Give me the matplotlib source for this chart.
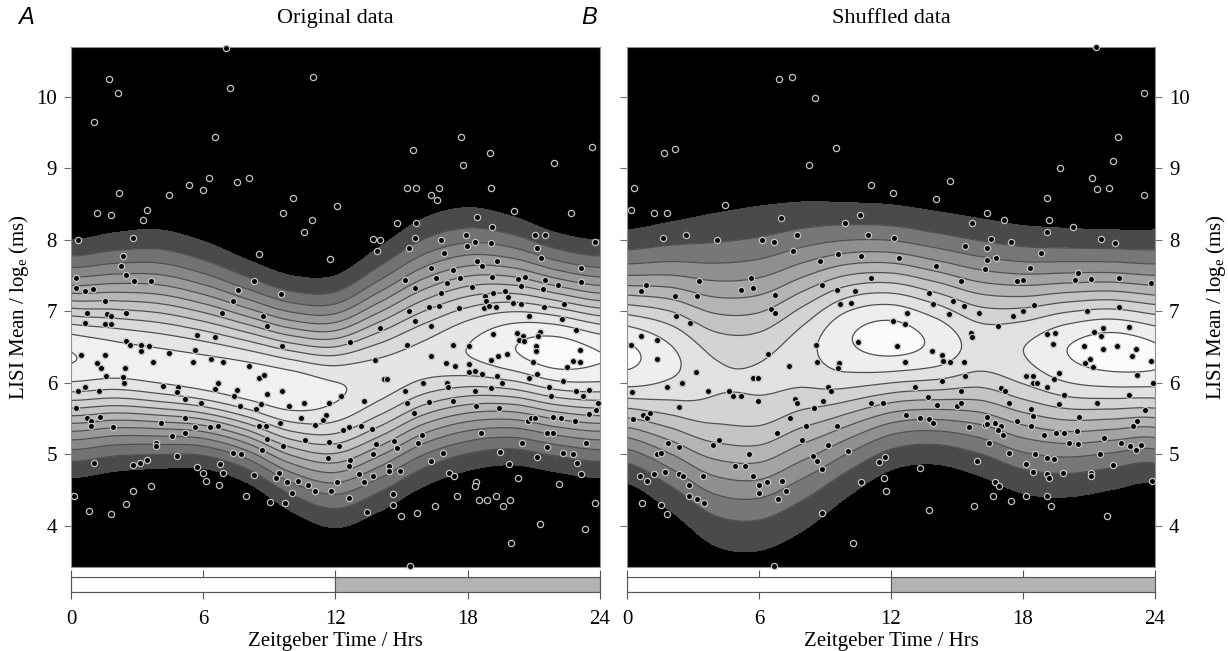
"""LISI mean vs Zeitgeber time: density contours of original and shuffled data."""

import matplotlib

matplotlib.use("Agg")
import matplotlib.pyplot as plt
import numpy as np

plt.rcParams["font.family"] = ["Liberation Serif", "DejaVu Serif"]
plt.rcParams["mathtext.fontset"] = "custom"
plt.rcParams["mathtext.rm"] = "Liberation Serif"

# --- density ridge, one node every 2 h (periodic in ZT) ---
node_hour = np.arange(0, 24, 2)
# panel A (original data)
a_mu = [6.35, 6.3, 6.2, 6.1, 6.0, 5.9, 5.88, 6.05, 6.3, 6.45, 6.48, 6.42]
a_top = [8.0, 8.1, 8.14, 7.98, 7.72, 7.5, 7.5, 7.9, 8.3, 8.45, 8.33, 8.1]
a_bottom = [4.67, 4.76, 4.8, 4.8, 4.6, 4.2, 3.97, 4.2, 4.55, 4.77, 4.85, 4.75]
a_peak = [0.955, 0.92, 0.915, 0.92, 0.93, 0.93, 0.885, 0.84, 0.83, 0.875, 0.945, 0.99]
# panel B (shuffled data)
b_mu = [6.37, 6.3, 6.08, 6.05, 6.4, 6.6, 6.62, 6.55, 6.5, 6.45, 6.45, 6.45]
b_top = [8.14, 8.25, 8.37, 8.47, 8.53, 8.52, 8.49, 8.4, 8.3, 8.2, 8.16, 8.14]
b_bottom = [4.59, 4.2, 3.72, 3.65, 3.93, 4.4, 4.78, 4.86, 4.7, 4.45, 4.4, 4.5]
b_peak = [0.975, 0.88, 0.78, 0.775, 0.82, 0.94, 0.99, 0.93, 0.82, 0.855, 0.95, 1.0]

# --- individual recordings (ZT hour, LISI mean) ---
a_hour = [7.03, 1.04, 1.72, 2.13, 7.2, 10.98, 6.53, 15.5, 17.7, 19.0, 21.9, 23.64, 17.8,
          6.25, 5.34, 6.0, 4.43, 2.19, 1.19, 1.8, 3.46, 3.25, 0.32, 2.83, 2.37, 2.25, 2.5,
          0.23, 2.86, 3.62, 0.23, 0.62, 0.98, 1.53, 0.71, 1.62, 1.8, 2.5, 6.85, 0.62, 1.56,
          1.8, 5.73, 6.52, 2.5, 2.68, 3.19, 3.55, 3.19, 5.64, 4.46, 0.44, 1.53, 6.37, 6.91,
          3.71, 5.52, 1.19, 1.38, 2.46, 1.59, 2.37, 2.4, 0.62, 0.32, 1.28, 4.16, 4.86, 4.82,
          6.67, 6.52, 5.16, 5.91, 0.23, 0.71, 0.89, 1.32, 0.89, 1.92, 4.1, 5.16, 5.61, 6.31,
          6.67, 4.58, 5.16, 3.86, 3.86, 4.8, 1.04, 2.8, 3.13, 3.46, 5.73, 5.98, 6.76, 6.91,
          6.13, 6.7, 0.14, 2.8, 3.64, 2.5, 0.8, 1.83,
          7.52, 8.09, 10.09, 12.08, 9.63, 10.93, 10.57, 13.69, 14.02, 13.87, 8.52, 11.75,
          8.3, 9.51, 7.58, 7.36, 8.7, 8.88, 14.02, 12.66, 9.57, 13.81, 8.09, 8.54, 8.76,
          14.2, 7.55, 7.4, 8.88, 9.57, 10.57, 11.72, 13.29, 9.88, 12.26, 7.67, 8.39, 8.61,
          10.45, 11.57, 11.45, 9.48, 8.54, 8.85, 11.08, 12.33, 12.63, 13.14, 13.66, 8.88,
          10.6, 11.72, 12.15, 13.84, 8.67, 9.63, 7.36, 7.73, 11.66, 12.66, 13.72, 12.6,
          9.45, 9.81, 10.3, 10.75, 11.08, 11.81, 12.08, 13.08, 13.29, 13.69, 9.3, 8.3,
          7.94, 9.03, 9.72, 10.03, 12.63, 13.42,
          15.26, 15.65, 16.35, 16.59, 16.71, 19.07, 20.1, 22.7, 14.8, 15.65, 18.41, 19.1,
          15.59, 15.32, 16.77, 17.92, 17.95, 18.32, 19.04, 21.04, 21.52, 21.16, 21.34,
          23.76, 16.92, 23.15, 22.1, 23.13, 15.14, 16.32, 17.35, 18.44, 18.65, 19.32,
          16.56, 17.07, 17.65, 19.1, 20.28, 20.61, 21.49, 15.62, 18.19, 20.4, 21.4, 16.8,
          18.8, 19.16, 19.7, 19.83, 18.83, 20.04, 20.4, 22.37, 16.26, 16.68, 17.59, 18.74,
          18.98, 19.28, 21.46, 15.35, 15.59, 20.8, 22.28, 16.35, 22.91, 19.16, 20.22,
          20.52, 21.28, 21.19, 20.34, 20.55, 17.35, 15.26, 18.07, 21.1, 21.1, 23.09, 16.32,
          19.37, 19.77, 22.76, 23.09, 19.04, 17.01, 17.41, 18.07, 20.95, 22.49, 18.07,
          18.32, 18.65, 21.16, 14.32, 19.34, 20.77, 22.31, 15.96, 17.05, 17.1, 19.56,
          18.32, 19.04, 21.7, 15.14, 22.91, 23.49, 21.79, 23.24, 15.26, 16.23, 17.32,
          18.38, 19.41, 23.91, 23.82, 15.56, 20.74, 20.89, 21.07, 21.86, 22.22, 22.85,
          23.52, 15.93, 21.58, 21.86, 14.66, 14.8, 15.74, 23.37, 18.59, 20.46, 21.58,
          22.31, 22.76, 19.46, 16.89, 16.32, 19.89, 21.13, 22.94, 23.13, 14.41, 14.41,
          14.93, 17.14, 17.38, 20.28, 18.38, 18.32, 22.16, 14.6, 17.5, 18.53, 18.89, 19.28,
          19.92, 19.61, 23.79, 16.53, 14.62, 15.68, 14.96, 19.95, 15.38, 21.3, 23.3]
a_lisi = [10.69, 9.65, 10.25, 10.06, 10.13, 10.28, 9.44, 9.26, 9.44, 9.22, 9.07, 9.3, 9.05,
          8.87, 8.77, 8.7, 8.62, 8.65, 8.38, 8.35, 8.41, 8.28, 8.0, 8.03, 7.78, 7.64, 7.51,
          7.47, 7.42, 7.43, 7.32, 7.28, 7.31, 7.14, 6.98, 6.96, 6.94, 6.98, 6.98, 6.83, 6.82,
          6.82, 6.67, 6.64, 6.58, 6.53, 6.53, 6.52, 6.45, 6.46, 6.42, 6.39, 6.39, 6.33, 6.29,
          6.29, 6.29, 6.27, 6.2, 6.21, 6.1, 6.08, 6.0, 5.94, 5.89, 5.88, 5.95, 5.94, 5.87,
          5.99, 5.91, 5.77, 5.71, 5.65, 5.51, 5.47, 5.52, 5.4, 5.38, 5.43, 5.5, 5.38, 5.38,
          5.4, 5.26, 5.29, 5.16, 5.12, 4.97, 4.87, 4.85, 4.88, 4.92, 4.82, 4.74, 4.86, 4.73,
          4.63, 4.57, 4.42, 4.49, 4.55, 4.3, 4.21, 4.16,
          8.81, 8.86, 8.58, 8.47, 8.38, 8.28, 8.11, 8.01, 7.99, 7.85, 7.8, 7.73,
          7.42, 7.24, 7.3, 7.14, 6.93, 6.8, 6.77, 6.57, 6.52, 6.32, 6.24, 6.07, 6.11,
          6.05, 5.9, 5.81, 5.84, 5.89, 5.71, 5.71, 5.74, 5.67, 5.82, 5.68, 5.63, 5.7,
          5.51, 5.55, 5.48, 5.44, 5.39, 5.4, 5.41, 5.34, 5.38, 5.39, 5.35, 5.21,
          5.2, 5.17, 5.12, 5.14, 5.06, 5.12, 5.01, 5.0, 4.95, 4.92, 5.0, 4.83,
          4.74, 4.61, 4.63, 4.57, 4.48, 4.49, 4.61, 4.72, 4.61, 4.7, 4.66, 4.71,
          4.41, 4.33, 4.32, 4.45, 4.38, 4.19,
          8.72, 8.73, 8.63, 8.56, 8.72, 8.72, 8.4, 8.37, 8.24, 8.23, 8.32, 8.18,
          8.02, 7.88, 8.0, 8.06, 7.91, 7.97, 7.96, 8.07, 8.07, 7.89, 7.74,
          7.97, 7.82, 7.61, 7.37, 7.41, 7.44, 7.61, 7.58, 7.7, 7.64, 7.7,
          7.46, 7.4, 7.46, 7.48, 7.45, 7.48, 7.44, 7.32, 7.34, 7.35, 7.31, 7.26,
          7.22, 7.25, 7.28, 7.2, 7.15, 7.11, 7.1, 7.1, 7.06, 7.07, 7.04, 7.04,
          7.08, 7.06, 7.06, 7.01, 6.86, 6.93, 6.89, 6.8, 6.74, 6.68, 6.69,
          6.66, 6.71, 6.65, 6.6, 6.58, 6.53, 6.53, 6.51, 6.51, 6.45, 6.46, 6.38,
          6.38, 6.4, 6.3, 6.29, 6.32, 6.27, 6.24, 6.26, 6.29, 6.22, 6.15,
          6.16, 6.12, 6.12, 6.05, 6.09, 6.06, 6.02, 6.0, 6.0, 5.94, 5.99,
          5.88, 5.92, 5.94, 5.89, 5.89, 5.9, 5.81, 5.81, 5.72, 5.73, 5.75,
          5.67, 5.65, 5.71, 5.62, 5.57, 5.47, 5.5, 5.51, 5.52, 5.51, 5.47,
          5.56, 5.27, 5.3, 5.3, 5.19, 5.08, 5.15, 5.15, 5.29, 5.15, 5.1,
          5.01, 5.0, 5.03, 5.01, 4.9, 4.86, 4.96, 4.87, 4.72, 4.83, 4.76,
          4.76, 4.73, 4.69, 4.67, 4.61, 4.56, 4.58, 4.44, 4.42, 4.36, 4.36, 4.42,
          4.36, 4.28, 4.32, 4.28, 4.29, 4.18, 4.13, 3.75, 3.44, 4.02, 3.95]

b_hour = [6.9, 7.5, 8.55, 9.5, 8.27, 1.7, 2.2, 22.1, 22.3, 23.5, 21.3, 19.7,
          0.32, 0.17, 1.23, 1.83, 4.47, 6.99, 1.62, 2.68, 4.1, 6.14, 6.68, 7.71, 7.53,
          3.26, 5.62, 0.86, 0.62, 2.17, 3.17, 5.2, 5.74, 6.74, 6.56, 6.71, 2.23, 2.86,
          0.62, 1.38, 0.2, 1.35, 6.41, 7.38, 3.14, 5.74, 5.95, 1.8, 2.5, 0.23, 3.68,
          4.62, 4.8, 5.17, 5.95, 7.62, 7.74, 2.38, 0.26, 0.74, 0.9, 1.05, 7.41, 6.83,
          1.86, 2.38, 3.92, 4.2, 1.35, 1.53, 5.56, 7.95, 4.9, 5.35, 1.23, 1.74, 2.38,
          2.56, 3.47, 0.59, 0.9, 2.83, 5.71, 6.01, 6.35, 7.05, 6.01, 7.23, 6.86, 2.83,
          3.2, 3.5, 0.68, 1.56, 1.8, 10.29, 6.68,
          11.08, 12.1, 14.68, 14.05, 10.59, 9.9, 15.68, 10.95, 12.14, 15.38, 16.26,
          9.59, 10.62, 8.77, 12.38, 14.05, 11.1, 15.2, 8.86, 9.53, 10.38, 13.74, 9.68,
          10.17, 13.9, 14.8, 15.32, 16.01, 14.62, 12.71, 12.1, 12.62, 15.62, 15.68,
          10.5, 8.59, 12.26, 13.86, 14.32, 14.38, 14.68, 15.32, 8.65, 9.62, 9.59,
          12.65, 15.38, 14.32, 13.1, 9.14, 9.29, 15.17, 13.68, 8.92, 11.1, 11.65,
          14.1, 15.01, 15.2, 8.5, 12.68, 13.32, 13.74, 13.9, 8.14, 9.53, 16.26, 9.14,
          15.9, 15.56, 10.05, 8.44, 8.65, 11.74, 11.47, 8.86, 13.32, 10.65, 11.68,
          11.77, 8.86, 13.74, 15.77,
          21.14, 21.38, 21.92, 23.5, 19.08, 16.38, 17.14, 19.2, 20.29, 19.07, 16.56,
          17.44, 21.56, 22.2, 18.83, 16.38, 18.32, 20.5, 16.38, 16.77, 17.74, 18.01,
          20.35, 21.08, 22.38, 23.83, 18.5, 18.01, 17.53, 20.92, 22.38, 16.86, 19.08,
          19.47, 21.23, 21.65, 21.53, 22.83, 19.35, 20.77, 21.62, 22.26, 23.14, 22.95,
          23.8, 21.05, 20.83, 21.17, 19.65, 19.41, 18.14, 18.44, 18.47, 18.65, 19.08,
          23.2, 23.9, 17.01, 17.2, 19.86, 22.8, 17.38, 19.62, 21.35, 18.35, 23.53,
          18.44, 20.56, 16.38, 17.74, 23.17, 16.38, 16.71, 16.99, 16.86, 17.1, 18.35,
          22.99, 18.95, 19.5, 19.86, 20.44, 20.08, 21.68, 22.47, 22.86, 23.38, 16.44,
          17.35, 18.56, 19.1, 19.41, 20.5, 21.5, 23.14, 18.14, 22.1, 18.44, 19.1,
          19.83, 21.1, 19.2, 21.08, 16.71, 16.92, 23.86, 16.62, 17.44, 18.14, 19.1,
          19.29, 21.8]
b_lisi = [10.25, 10.28, 9.99, 9.29, 9.05, 9.22, 9.27, 9.1, 9.44, 10.06, 10.7, 9.0,
          8.72, 8.41, 8.38, 8.38, 8.48, 8.31, 8.03, 8.07, 8.0, 7.99, 7.97, 8.07, 7.85,
          7.42, 7.46, 7.37, 7.28, 7.21, 7.22, 7.3, 7.32, 7.23, 7.03, 6.98, 6.93, 6.83,
          6.65, 6.6, 6.53, 6.33, 6.4, 6.23, 6.15, 6.06, 6.06, 5.94, 6.0, 5.87, 5.89,
          5.89, 5.81, 5.82, 5.74, 5.77, 5.71, 5.66, 5.49, 5.55, 5.5, 5.57, 5.5, 5.29,
          5.15, 5.1, 5.13, 5.2, 5.0, 5.02, 5.0, 5.2, 4.83, 4.83, 4.72, 4.75, 4.72,
          4.69, 4.7, 4.69, 4.62, 4.57, 4.69, 4.57, 4.61, 4.63, 4.45, 4.48, 4.37, 4.42,
          4.37, 4.32, 4.32, 4.29, 4.16, 3.75, 3.44,
          8.77, 8.65, 8.82, 8.57, 8.35, 8.23, 8.24, 8.06, 8.02, 7.91, 7.59,
          7.8, 7.78, 7.7, 7.75, 7.64, 7.47, 7.42, 7.37, 7.3, 7.28, 7.26, 7.1,
          7.11, 7.1, 7.15, 7.07, 6.98, 6.96, 6.98, 6.87, 6.82, 6.7, 6.64,
          6.57, 6.53, 6.52, 6.45, 6.39, 6.31, 6.29, 6.29, 6.29, 6.27, 6.2,
          6.29, 6.09, 6.02, 5.94, 5.94, 5.89, 5.88, 5.8, 5.75, 5.72, 5.72,
          5.69, 5.67, 5.72, 5.64, 5.55, 5.51, 5.49, 5.43, 5.4, 5.39, 5.41, 5.13,
          4.9, 5.38, 5.04, 4.97, 4.91, 4.96, 4.89, 4.79, 4.81, 4.61, 4.67,
          4.49, 4.17, 4.22, 4.28,
          8.86, 8.71, 8.72, 8.63, 8.58, 8.37, 8.28, 8.28, 8.18, 8.11, 8.01,
          7.97, 8.01, 7.96, 7.81, 7.89, 7.61, 7.53, 7.72, 7.74, 7.43, 7.44,
          7.44, 7.45, 7.47, 7.4, 7.09, 7.0, 6.94, 7.01, 7.06, 6.8, 6.68,
          6.69, 6.71, 6.76, 6.66, 6.78, 6.54, 6.52, 6.47, 6.52, 6.47, 6.38,
          6.31, 6.33, 6.27, 6.22, 6.14, 6.05, 6.09, 6.09, 5.99, 6.0, 5.94,
          6.11, 5.99, 5.93, 5.88, 5.83, 5.83, 5.71, 5.7, 5.71, 5.63, 5.62,
          5.53, 5.52, 5.52, 5.47, 5.46, 5.42, 5.44, 5.39, 5.34, 5.27, 5.4,
          5.4, 5.27, 5.29, 5.3, 5.33, 5.15, 5.22, 5.16, 5.12, 5.13, 5.15,
          5.02, 5.0, 4.95, 4.93, 5.14, 5.0, 5.06, 4.86, 4.85, 4.75, 4.72,
          4.73, 4.74, 4.67, 4.69, 4.61, 4.56, 4.63, 4.42, 4.35, 4.42, 4.42,
          4.28, 4.13]

# light/dark schedule for the bar under each panel
phase_start = [0, 12]
phase_length = [12, 12]
phase_colour = ["white", "#b3b3b3"]
zt_ticks = [0, 6, 12, 18, 24]
y_ticks = [4, 5, 6, 7, 8, 9, 10]

FLOOR = 0.1


def periodic_spline(vals, hour):
    """Catmull-Rom spline through the 2-h nodes, wrapping at 24 h."""
    v = np.asarray(vals, float)
    n = len(v)
    u = (hour % 24) / (24 / n)
    i = np.floor(u).astype(int)
    t = u - i
    p0, p1, p2, p3 = v[(i - 1) % n], v[i % n], v[(i + 1) % n], v[(i + 2) % n]
    return 0.5 * (2 * p1 + (p2 - p0) * t + (2 * p0 - 5 * p1 + 4 * p2 - p3) * t**2
                  + (3 * p1 - p0 - 3 * p2 + p3) * t**3)


def density(H, Y, mu, top, bottom, peak):
    m = periodic_spline(mu, H)
    a = periodic_spline(peak, H)
    k = np.sqrt(2 * np.log(a / FLOOR))
    s_up = (periodic_spline(top, H) - m) / k
    s_dn = (m - periodic_spline(bottom, H)) / k
    s = np.where(Y > m, s_up, s_dn)
    return a * np.exp(-0.5 * ((Y - m) / s) ** 2)


def draw_panel(ax, bar, ridge, n_levels, hours, lisi, title, letter, letter_x, right):
    hh = np.linspace(0, 24, 601)
    yy = np.linspace(3.3, 10.8, 500)
    H, Y = np.meshgrid(hh, yy)
    Z = density(H, Y, *ridge)
    levels = np.linspace(FLOOR, 0.95, n_levels)
    nb = len(levels)
    greys = 0.29 + 0.69 * (np.arange(nb) / (nb - 1)) ** 0.62
    ax.set_facecolor("black")
    ax.contourf(H, Y, Z, levels=list(levels) + [2.0], colors=[str(g) for g in greys])
    ax.contour(H, Y, Z, levels=levels[1:], colors="#505050", linewidths=0.9)
    ax.scatter(hours, lisi, s=20, c="black", edgecolors="#c4c4c4", linewidths=0.9,
               zorder=3, clip_on=False)
    ax.set_xlim(0, 24)
    ax.set_ylim(3.42, 10.7)
    ax.set_xticks([])
    ax.set_yticks(y_ticks)
    for sp in ax.spines.values():
        sp.set_color("#909090")
        sp.set_linewidth(0.8)
    ax.tick_params(axis="y", direction="out", length=5, width=0.8, color="#707070",
                   labelsize=15, pad=5, left=True, right=right, labelleft=not right,
                   labelright=right)
    label = r"LISI Mean / log$_\mathrm{e}$ (ms)"
    if right:
        ax.yaxis.set_label_position("right")
        ax.set_ylabel(label, fontsize=15, rotation=90, labelpad=10)
    else:
        ax.set_ylabel(label, fontsize=15, labelpad=4)
    fig = ax.figure
    pos = ax.get_position()
    fig.text((pos.x0 + pos.x1) / 2, 0.972, title, ha="center", va="center", fontsize=16)
    fig.text(letter_x, 0.973, letter, ha="center", va="center", fontsize=17,
             style="italic", family=["Liberation Sans", "DejaVu Sans"])

    # light / dark bar
    bar.barh(0.5, phase_length, left=phase_start, height=1, color=phase_colour,
             edgecolor="#555555", linewidth=0.8)
    bar.set_xlim(0, 24)
    bar.set_ylim(0, 1)
    bar.set_yticks([])
    bar.set_xticks(zt_ticks)
    bar.tick_params(axis="x", direction="out", length=5, width=0.8, color="#555555",
                    top=True, labelsize=15, pad=8)
    for sp in bar.spines.values():
        sp.set_color("#555555")
        sp.set_linewidth(0.8)
    bar.set_xlabel("Zeitgeber Time / Hrs", fontsize=15, labelpad=2)


fig = plt.figure(figsize=(12.28, 6.51), dpi=100)
ax_a = fig.add_axes([0.0578, 0.129, 0.4308, 0.799])
ax_b = fig.add_axes([0.5106, 0.129, 0.4300, 0.799])
bar_a = fig.add_axes([0.0578, 0.0906, 0.4308, 0.0235])
bar_b = fig.add_axes([0.5106, 0.0906, 0.4300, 0.0235])

draw_panel(ax_a, bar_a, (a_mu, a_top, a_bottom, a_peak), 12, a_hour, a_lisi,
           "Original data", "A", 0.021, right=False)
draw_panel(ax_b, bar_b, (b_mu, b_top, b_bottom, b_peak), 10, b_hour, b_lisi,
           "Shuffled data", "B", 0.48, right=True)

fig.savefig("out.png", dpi=100)
